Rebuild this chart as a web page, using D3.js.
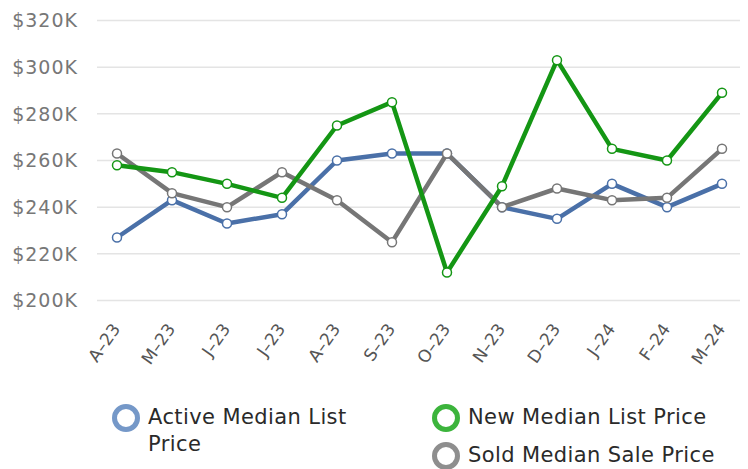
<!DOCTYPE html>
<html>
<head>
<meta charset="utf-8">
<script src="https://cdn.jsdelivr.net/npm/d3@7"></script>
<style>
  body { margin: 0; background: #fff; }
  svg { display: block; }
</style>
</head>
<body>
<div id="chart"></div>
<script>
// data (values in $K)
const months = ["A\u201323", "M\u201323", "J\u201323", "J\u201323", "A\u201323", "S\u201323",
                "O\u201323", "N\u201323", "D\u201323", "J\u201324", "F\u201324", "M\u201324"];
const activeList = [227, 243, 233, 237, 260, 263, 263, 240, 235, 250, 240, 250];
const newList = [258, 255, 250, 244, 275, 285, 212, 249, 303, 265, 260, 289];
const soldSale = [263, 246, 240, 255, 243, 225, 263, 240, 248, 243, 244, 265];
const yTicks = [200, 220, 240, 260, 280, 300, 320];

const width = 748, height = 469;

const svg = d3.select("#chart").append("svg")
  .attr("width", width)
  .attr("height", height);

// scales
const x = d3.scalePoint()
  .domain(d3.range(months.length))
  .range([117, 722]);

const y = d3.scaleLinear()
  .domain([200, 320])
  .range([300.5, 20.5]);

// gridlines
svg.append("g")
  .selectAll("line")
  .data(yTicks)
  .join("line")
  .attr("x1", 97)
  .attr("x2", 740)
  .attr("y1", d => y(d))
  .attr("y2", d => y(d))
  .style("stroke", "#e4e4e4")
  .style("stroke-width", 1.5);

// y labels
svg.append("g")
  .selectAll("text")
  .data(yTicks)
  .join("text")
  .attr("x", 78)
  .attr("y", d => y(d))
  .attr("dy", "0.36em")
  .attr("text-anchor", "end")
  .style("font-family", "DejaVu Sans")
  .style("font-size", "19px")
  .style("letter-spacing", "1px")
  .style("fill", "#777")
  .text(d => `$${d}K`);

// x labels
svg.append("g")
  .selectAll("text")
  .data(months)
  .join("text")
  .attr("transform", (d, i) => `translate(${x(i) + 4},329) rotate(-55)`)
  .attr("text-anchor", "end")
  .style("font-family", "DejaVu Sans")
  .style("font-size", "17px")
  .style("fill", "#555")
  .text(d => d);

// series
const series = [
  { name: "Active Median List Price", values: activeList, color: "#4a70a8" },
  { name: "Sold Median Sale Price", values: soldSale, color: "#767676" },
  { name: "New Median List Price", values: newList, color: "#149614" }
];

const line = d3.line()
  .x((d, i) => x(i))
  .y(d => y(d));

series.forEach(s => {
  const g = svg.append("g");
  g.append("path")
    .datum(s.values)
    .attr("d", line)
    .style("fill", "none")
    .style("stroke", s.color)
    .style("stroke-width", 4.5)
    .style("stroke-linejoin", "round");
  g.selectAll("circle")
    .data(s.values)
    .join("circle")
    .attr("cx", (d, i) => x(i))
    .attr("cy", d => y(d))
    .attr("r", 4.5)
    .style("fill", "#fff")
    .style("stroke", s.color)
    .style("stroke-width", 1.5);
});

// legend
const legendItems = [
  { lines: ["Active Median List", "Price"], color: "#7598c8", cx: 126, cy: 418 },
  { lines: ["New Median List Price"], color: "#3cb43c", cx: 446, cy: 418 },
  { lines: ["Sold Median Sale Price"], color: "#8e8e8e", cx: 446, cy: 456 }
];

const legend = svg.append("g")
  .selectAll("g")
  .data(legendItems)
  .join("g");

legend.append("circle")
  .attr("cx", d => d.cx)
  .attr("cy", d => d.cy)
  .attr("r", 11.5)
  .style("fill", "none")
  .style("stroke", d => d.color)
  .style("stroke-width", 5);

legend.append("text")
  .attr("x", d => d.cx + 22)
  .attr("y", d => d.cy + 6)
  .style("font-family", "DejaVu Sans")
  .style("font-size", "21px")
  .style("letter-spacing", "0.4px")
  .style("fill", "#2a2a2a")
  .selectAll("tspan")
  .data(d => d.lines.map((t, i) => ({ t, i, x: d.cx + 22 })))
  .join("tspan")
  .attr("x", d => d.x)
  .attr("dy", d => d.i === 0 ? 0 : 27)
  .text(d => d.t);
</script>
</body>
</html>
